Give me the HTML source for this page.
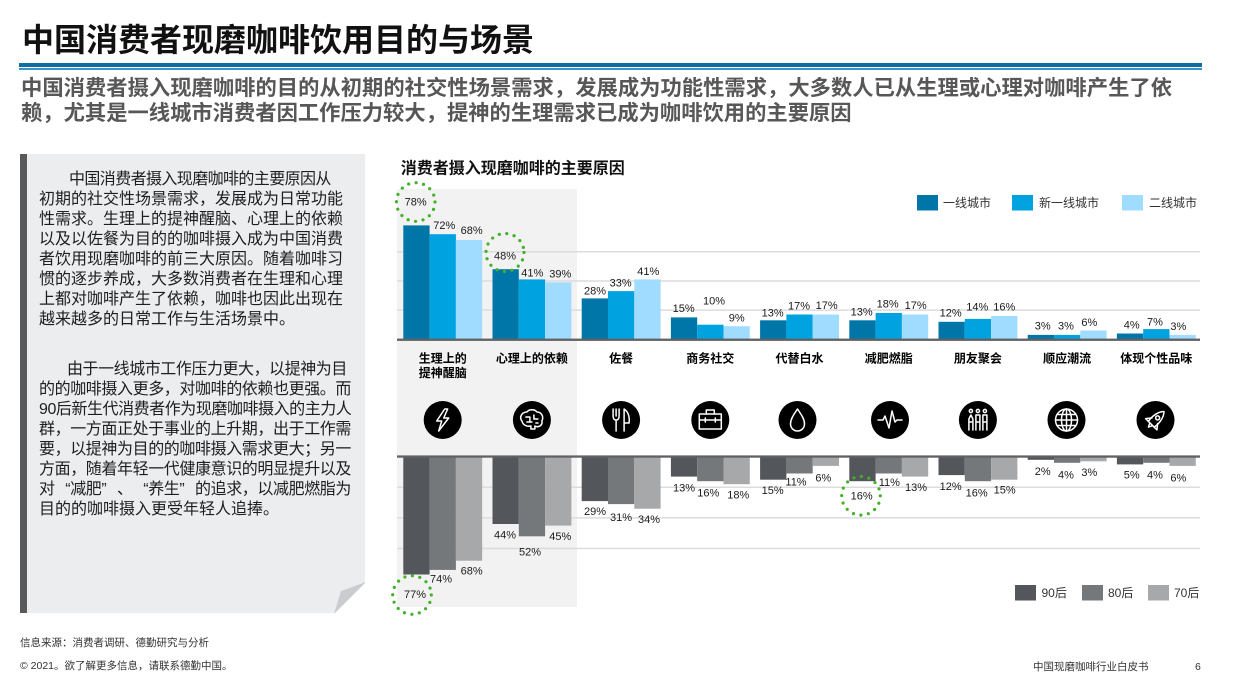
<!DOCTYPE html>
<html><head><meta charset="utf-8">
<style>
html,body{margin:0;padding:0;background:#fff;}
body{width:1244px;height:697px;position:relative;overflow:hidden;font-family:"Liberation Sans","Noto Sans CJK SC",sans-serif;}
.abs{position:absolute;white-space:nowrap;}
.title{left:22px;top:21px;font-size:32px;line-height:38px;font-weight:bold;color:#111;}
.sub{left:21px;font-size:21.3px;line-height:25.5px;font-weight:bold;color:#575757;}
.box{left:27px;top:154px;width:338px;height:459px;background:#ecedef;}
.boxbar{left:20px;top:154px;width:7px;height:459px;background:#58595b;}
.tl{position:absolute;font-size:16px;line-height:20px;color:#1e1e1e;white-space:nowrap;}
.foot{font-size:10.5px;line-height:14px;color:#333;}
.ql{display:inline-block;width:15.6px;text-align:right;}
.qr{display:inline-block;width:15.6px;text-align:left;}
</style></head><body>

<div class="abs title">中国消费者现磨咖啡饮用目的与场景</div>
<div class="abs" style="left:19px;top:63px;width:1183px;height:4px;background:#0f6fa5;"></div>
<div class="abs" style="left:19px;top:68px;width:1183px;height:1.5px;background:#3b93c8;"></div>

<div class="abs sub" style="top:75.5px;width:1151px;text-align:justify;text-align-last:justify;">中国消费者摄入现磨咖啡的目的从初期的社交性场景需求，发展成为功能性需求，大多数人已从生理或心理对咖啡产生了依</div>
<div class="abs sub" style="top:101px;">赖，尤其是一线城市消费者因工作压力较大，提神的生理需求已成为咖啡饮用的主要原因</div>

<div class="abs boxbar"></div>
<div class="abs box"></div>
<svg class="abs" style="left:0;top:0" width="1244" height="697">
  <polygon points="334,614 366,614 366,582" fill="#fff"/>
  <polygon points="334,614 366,582 341,591" fill="#cbcccf"/>
</svg>

<div class="tl" style="left:69px;top:170px;letter-spacing:-0.6px;">中国消费者摄入现磨咖啡的主要原因从</div>
<div class="tl" style="left:39px;top:190px;">初期的社交性场景需求，发展成为日常功能</div>
<div class="tl" style="left:39px;top:210px;">性需求。生理上的提神醒脑、心理上的依赖</div>
<div class="tl" style="left:39px;top:230px;">以及以佐餐为目的的咖啡摄入成为中国消费</div>
<div class="tl" style="left:39px;top:250px;">者饮用现磨咖啡的前三大原因。随着咖啡习</div>
<div class="tl" style="left:39px;top:270px;">惯的逐步养成，大多数消费者在生理和心理</div>
<div class="tl" style="left:39px;top:290px;">上都对咖啡产生了依赖，咖啡也因此出现在</div>
<div class="tl" style="left:39px;top:310px;">越来越多的日常工作与生活场景中。</div>

<div class="tl" style="left:67px;top:360px;letter-spacing:-0.45px;">由于一线城市工作压力更大，以提神为目</div>
<div class="tl" style="left:39px;top:380px;letter-spacing:-0.4px;">的的咖啡摄入更多，对咖啡的依赖也更强。而</div>
<div class="tl" style="left:39px;top:400px;letter-spacing:-0.45px;">90后新生代消费者作为现磨咖啡摄入的主力人</div>
<div class="tl" style="left:39px;top:420px;letter-spacing:-0.4px;">群，一方面正处于事业的上升期，出于工作需</div>
<div class="tl" style="left:39px;top:440px;letter-spacing:-0.4px;">要，以提神为目的的咖啡摄入需求更大；另一</div>
<div class="tl" style="left:39px;top:460px;letter-spacing:-0.4px;">方面，随着年轻一代健康意识的明显提升以及</div>
<div class="tl" style="left:39px;top:480px;letter-spacing:-0.4px;">对<span class="ql">“</span>减肥<span class="qr">”</span>、<span class="ql">“</span>养生<span class="qr">”</span>的追求，以减肥燃脂为</div>
<div class="tl" style="left:39px;top:500px;">目的的咖啡摄入更受年轻人追捧。</div>

<div class="abs foot" style="left:20px;top:636px;">信息来源：消费者调研、德勤研究与分析</div>
<div class="abs foot" style="left:20px;top:659px;">© 2021。欲了解更多信息，请联系德勤中国。</div>
<div class="abs foot" style="left:1033px;top:660px;">中国现磨咖啡行业白皮书</div>
<div class="abs foot" style="left:1195px;top:660px;">6</div>

<svg class="abs" style="left:0;top:0" width="1244" height="697" font-family="Liberation Sans, Noto Sans CJK SC, sans-serif">
  <rect x="397" y="189" width="180" height="418" fill="#f2f2f2"/>
  <text x="400.7" y="173.5" font-size="16" font-weight="bold" fill="#111">消费者摄入现磨咖啡的主要原因</text>

  <rect x="917" y="195" width="21" height="15.5" fill="#0076a8"/>
  <text x="943" y="207" font-size="12" fill="#333">一线城市</text>
  <rect x="1012" y="195" width="21" height="15.5" fill="#00a3e0"/>
  <text x="1039" y="207" font-size="12" fill="#333">新一线城市</text>
  <rect x="1122" y="195" width="21" height="15.5" fill="#a0dcff"/>
  <text x="1149" y="207" font-size="12" fill="#333">二线城市</text>

  <g stroke="#dcdcdc" stroke-width="1.5">
    <line x1="397" y1="251.7" x2="1200" y2="251.7"/>
    <line x1="397" y1="281" x2="1200" y2="281"/>
    <line x1="397" y1="310.1" x2="1200" y2="310.1"/>
    <line x1="397" y1="487.3" x2="1200" y2="487.3"/>
    <line x1="397" y1="517.9" x2="1200" y2="517.9"/>
    <line x1="397" y1="548.5" x2="1200" y2="548.5"/>
  </g>

  <g fill="#0076a8">
    <rect x="403.3" y="225.4" width="26.3" height="113.9"/>
    <rect x="492.5" y="269.2" width="26.3" height="70.1"/>
    <rect x="581.7" y="298.4" width="26.3" height="40.9"/>
    <rect x="670.9" y="317.4" width="26.3" height="21.9"/>
    <rect x="760.1" y="320.3" width="26.3" height="19"/>
    <rect x="849.3" y="320.3" width="26.3" height="19"/>
    <rect x="938.5" y="321.8" width="26.3" height="17.5"/>
    <rect x="1027.7" y="334.9" width="26.3" height="4.4"/>
    <rect x="1116.9" y="333.5" width="26.3" height="5.8"/>
  </g>
  <g fill="#00a3e0">
    <rect x="429.6" y="234.2" width="26.3" height="105.1"/>
    <rect x="518.8" y="279.4" width="26.3" height="59.9"/>
    <rect x="608" y="291.1" width="26.3" height="48.2"/>
    <rect x="697.2" y="324.7" width="26.3" height="14.6"/>
    <rect x="786.4" y="314.5" width="26.3" height="24.8"/>
    <rect x="875.6" y="313" width="26.3" height="26.3"/>
    <rect x="964.8" y="318.9" width="26.3" height="20.4"/>
    <rect x="1054" y="334.9" width="26.3" height="4.4"/>
    <rect x="1143.2" y="329.1" width="26.3" height="10.2"/>
  </g>
  <g fill="#a0dcff">
    <rect x="455.9" y="240" width="26.3" height="99.3"/>
    <rect x="545.1" y="282.4" width="26.3" height="56.9"/>
    <rect x="634.3" y="279.4" width="26.3" height="59.9"/>
    <rect x="723.5" y="326.2" width="26.3" height="13.1"/>
    <rect x="812.7" y="314.5" width="26.3" height="24.8"/>
    <rect x="901.9" y="314.5" width="26.3" height="24.8"/>
    <rect x="991.1" y="315.9" width="26.3" height="23.4"/>
    <rect x="1080.3" y="330.5" width="26.3" height="8.8"/>
    <rect x="1169.5" y="334.9" width="26.3" height="4.4"/>
  </g>
  <rect x="397" y="338.6" width="803" height="2.3" fill="#606163"/>

  <g fill="#53565a">
    <rect x="403.3" y="456.7" width="26.3" height="117.8"/>
    <rect x="492.5" y="456.7" width="26.3" height="67.3"/>
    <rect x="581.7" y="456.7" width="26.3" height="44.4"/>
    <rect x="670.9" y="456.7" width="26.3" height="19.9"/>
    <rect x="760.1" y="456.7" width="26.3" height="23"/>
    <rect x="849.3" y="456.7" width="26.3" height="24.5"/>
    <rect x="938.5" y="456.7" width="26.3" height="18.4"/>
    <rect x="1027.7" y="456.7" width="26.3" height="3.1"/>
    <rect x="1116.9" y="456.7" width="26.3" height="7.7"/>
  </g>
  <g fill="#75787b">
    <rect x="429.6" y="456.7" width="26.3" height="113.2"/>
    <rect x="518.8" y="456.7" width="26.3" height="79.6"/>
    <rect x="608" y="456.7" width="26.3" height="47.4"/>
    <rect x="697.2" y="456.7" width="26.3" height="24.5"/>
    <rect x="786.4" y="456.7" width="26.3" height="16.8"/>
    <rect x="875.6" y="456.7" width="26.3" height="16.8"/>
    <rect x="964.8" y="456.7" width="26.3" height="24.5"/>
    <rect x="1054" y="456.7" width="26.3" height="6.1"/>
    <rect x="1143.2" y="456.7" width="26.3" height="6.1"/>
  </g>
  <g fill="#a7a8aa">
    <rect x="455.9" y="456.7" width="26.3" height="104"/>
    <rect x="545.1" y="456.7" width="26.3" height="68.9"/>
    <rect x="634.3" y="456.7" width="26.3" height="52"/>
    <rect x="723.5" y="456.7" width="26.3" height="27.5"/>
    <rect x="812.7" y="456.7" width="26.3" height="9.2"/>
    <rect x="901.9" y="456.7" width="26.3" height="19.9"/>
    <rect x="991.1" y="456.7" width="26.3" height="23"/>
    <rect x="1080.3" y="456.7" width="26.3" height="4.6"/>
    <rect x="1169.5" y="456.7" width="26.3" height="9.2"/>
  </g>
  <rect x="397" y="455.4" width="803" height="2.3" fill="#606163"/>

  <g font-size="11" fill="#1a1a1a" text-anchor="middle">
    <text x="415.7" y="205.7">78%</text>
    <text x="444.3" y="229">72%</text>
    <text x="471.7" y="234">68%</text>
    <text x="505" y="259.7">48%</text>
    <text x="532.3" y="276.3">41%</text>
    <text x="560.3" y="277.3">39%</text>
    <text x="595" y="294.3">28%</text>
    <text x="620.7" y="286.3">33%</text>
    <text x="648.3" y="275">41%</text>
    <text x="683.7" y="312">15%</text>
    <text x="714" y="304.3">10%</text>
    <text x="736.7" y="321.7">9%</text>
    <text x="772.7" y="316.3">13%</text>
    <text x="799" y="309.7">17%</text>
    <text x="826.7" y="309">17%</text>
    <text x="861.7" y="315.3">13%</text>
    <text x="887.7" y="307.3">18%</text>
    <text x="915.7" y="309">17%</text>
    <text x="950.7" y="316.7">12%</text>
    <text x="977.3" y="310.7">14%</text>
    <text x="1004.3" y="310.7">16%</text>
    <text x="1042.7" y="329.7">3%</text>
    <text x="1066" y="329.7">3%</text>
    <text x="1089.3" y="326">6%</text>
    <text x="1131.7" y="328.7">4%</text>
    <text x="1155" y="325.3">7%</text>
    <text x="1178.3" y="330">3%</text>
  </g>
  <g font-size="11" fill="#1a1a1a" text-anchor="middle">
    <text x="415" y="598">77%</text>
    <text x="441" y="582.3">74%</text>
    <text x="471.7" y="574.7">68%</text>
    <text x="505" y="538.3">44%</text>
    <text x="530" y="555.3">52%</text>
    <text x="560.3" y="540">45%</text>
    <text x="595" y="515">29%</text>
    <text x="621" y="521">31%</text>
    <text x="649" y="523">34%</text>
    <text x="684" y="491.3">13%</text>
    <text x="708.3" y="496.3">16%</text>
    <text x="738.3" y="498.3">18%</text>
    <text x="772.7" y="494">15%</text>
    <text x="796" y="485.7">11%</text>
    <text x="823.3" y="481.3">6%</text>
    <text x="861.7" y="499.3">16%</text>
    <text x="889.3" y="486">11%</text>
    <text x="916" y="491">13%</text>
    <text x="950.7" y="490">12%</text>
    <text x="976.7" y="496.3">16%</text>
    <text x="1004.7" y="493.3">15%</text>
    <text x="1042.7" y="475">2%</text>
    <text x="1066" y="478.3">4%</text>
    <text x="1089.3" y="476">3%</text>
    <text x="1131.7" y="478.3">5%</text>
    <text x="1155" y="478.3">4%</text>
    <text x="1178.3" y="481.3">6%</text>
  </g>

  <g fill="none" stroke="#43b02a" stroke-width="3.2" stroke-linecap="round" stroke-dasharray="0 7.6">
    <circle cx="415.7" cy="202" r="19.3"/>
    <circle cx="505" cy="252.5" r="19"/>
    <circle cx="412" cy="595" r="19.3"/>
    <circle cx="861" cy="495.8" r="19.3"/>
  </g>

  <g font-size="12" font-weight="bold" fill="#000" text-anchor="middle">
    <text x="442.7" y="362.3">生理上的</text>
    <text x="442.7" y="377">提神醒脑</text>
    <text x="531.9" y="362.3">心理上的依赖</text>
    <text x="621.1" y="362.3">佐餐</text>
    <text x="710.3" y="362.3">商务社交</text>
    <text x="799.5" y="362.3">代替白水</text>
    <text x="888.7" y="362.3">减肥燃脂</text>
    <text x="977.9" y="362.3">朋友聚会</text>
    <text x="1067.1" y="362.3">顺应潮流</text>
    <text x="1156.3" y="362.3">体现个性品味</text>
  </g>

  <g fill="#000">
    <circle cx="442.7" cy="420" r="19"/>
    <circle cx="531.9" cy="420" r="19"/>
    <circle cx="621.1" cy="420" r="19"/>
    <circle cx="710.3" cy="420" r="19"/>
    <circle cx="797.5" cy="420" r="19"/>
    <circle cx="890" cy="420" r="19"/>
    <circle cx="977.9" cy="420" r="19"/>
    <circle cx="1066.5" cy="420" r="19"/>
    <circle cx="1155.5" cy="420" r="19"/>
  </g>
  <g fill="none" stroke="#fff" stroke-width="1.5" stroke-linejoin="round" stroke-linecap="round">
    <path transform="translate(442.7,420)" d="M2,-11 L-6,1 L-1,1 L-4,11 L6,-2 L1,-2 L5,-11 Z"/>
    <g transform="translate(531.9,420)">
      <path d="M-10,1 C-13,-3 -10,-8 -5,-8 C-3,-11 3,-11 5,-8 C10,-8 12,-3 10,1 C11,5 7,8 3,6 L3,9 L-1,9 L-1,6 C-5,7 -9,5 -10,1 Z"/>
      <path d="M-6,-3 L-2,-3 L-2,1 M2,-5 L2,-1 L6,-1 M-5,2 L0,2 M4,3 L6,3"/>
    </g>
    <g transform="translate(621.1,420)">
      <path d="M-8,-11 V-4 Q-8,0 -5,0 Q-2,0 -2,-4 V-11 M-5,-11 V-4 M-5,0 V11"/>
      <path d="M3,11 V-11 Q9,-7 8,3 H3"/>
    </g>
    <g transform="translate(710.3,420)">
      <rect x="-11" y="-6" width="22" height="15"/>
      <path d="M-4,-6 V-10 H4 V-6 M-11,0 H11 M-5,-2 V2 M5,-2 V2"/>
    </g>
    <path transform="translate(797.5,420)" d="M0,-11 C4,-5 7,-1 7,4 A7,7 0 0 1 -7,4 C-7,-1 -4,-5 0,-11 Z"/>
    <polyline transform="translate(890,420)" points="-12,0 -7,0 -5,-4 -1,8 2,-9 5,2 7,0 12,0"/>
    <g transform="translate(977.9,420)">
      <circle cx="-7" cy="-9" r="1.6"/><circle cx="0" cy="-9" r="1.6"/><circle cx="7" cy="-9" r="1.6"/>
      <path d="M-9,10 V-1 L-7,-5 L-5,-1 V10 M-2,10 V-5 H2 V10 M5,10 V-5 H9 V10 M-9,2 H-5 M-2,2 H2 M5,2 H9"/>
    </g>
    <g transform="translate(1066.5,420)">
      <circle r="11"/><ellipse rx="5" ry="11"/>
      <path d="M0,-11 V11 M-11,0 H11 M-9.5,-5.5 H9.5 M-9.5,5.5 H9.5"/>
    </g>
    <g transform="translate(1155.5,420) rotate(45)">
      <path d="M0,-12 C5,-7 5,2 4,6 H-4 C-5,2 -5,-7 0,-12 Z"/>
      <path d="M-4,1 L-8,6 L-4,6 M4,1 L8,6 L4,6 M-2,6 L0,10 L2,6"/>
      <circle cx="0" cy="-3" r="2"/>
    </g>
  </g>

  <rect x="1015" y="585" width="21" height="15.5" fill="#53565a"/>
  <text x="1041.5" y="597" font-size="12" fill="#333">90后</text>
  <rect x="1082" y="585" width="21" height="15.5" fill="#75787b"/>
  <text x="1108" y="597" font-size="12" fill="#333">80后</text>
  <rect x="1148" y="585" width="21" height="15.5" fill="#a7a8aa"/>
  <text x="1174" y="597" font-size="12" fill="#333">70后</text>
</svg>
</body></html>
